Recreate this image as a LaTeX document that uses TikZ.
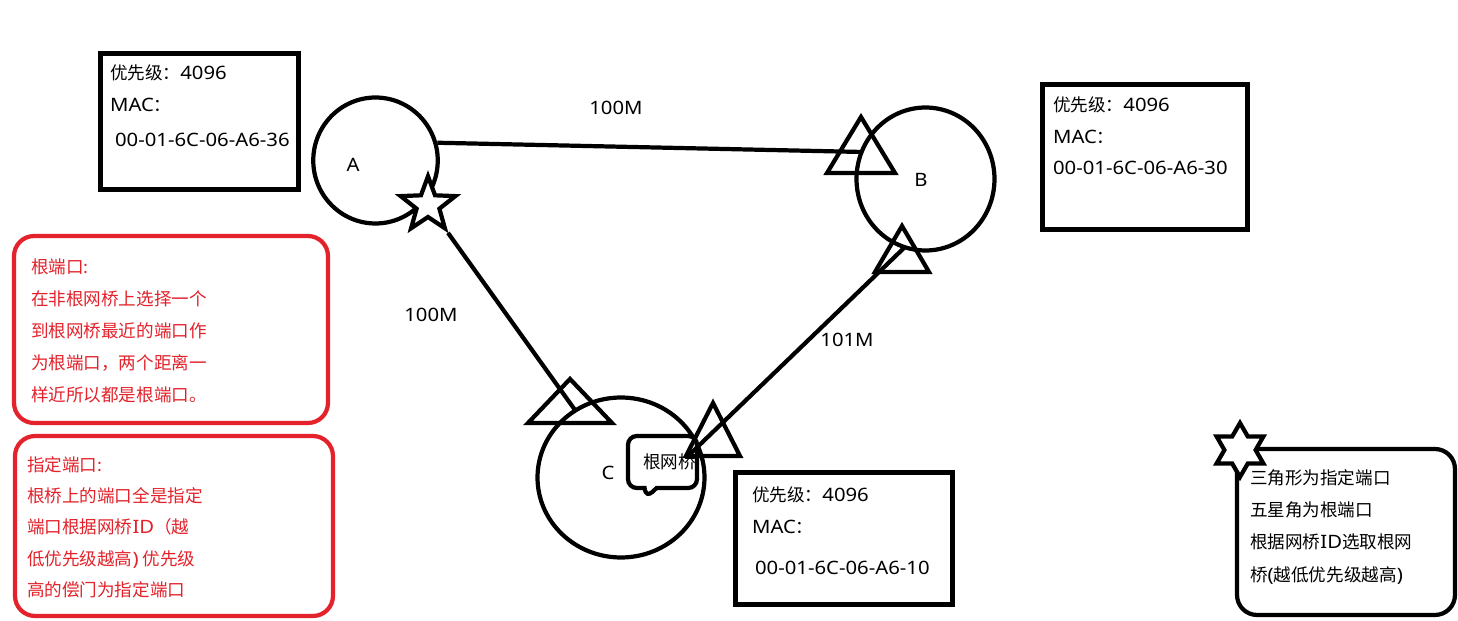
\documentclass[tikz,border=0pt]{standalone}
\usepackage{fontspec}
\setmainfont{Noto Sans CJK SC}
\newfontfamily\latin{Noto Sans}[Scale=1.05,FakeStretch=1.1]
\usepackage{tikz}
\usetikzlibrary{shapes.geometric}
\usetikzlibrary{shapes.callouts}
\definecolor{notered}{HTML}{E3222B}

\begin{document}
\begin{tikzpicture}[x=0.02cm,y=-0.02cm,line width=2.4pt,
  every node/.style={font=\fontsize{10}{12}\selectfont},
  txt/.style={anchor=west,inner sep=0pt,text height=0.85em,text depth=0.15em},
  redtxt/.style={txt,text=notered},
  infobox/.style={draw,rectangle,inner sep=0pt},
  notebox/.style={draw=notered,rectangle,rounded corners=0.4cm,inner sep=0pt},
  bridge/.style={draw,ellipse,inner sep=0pt}]
  \useasboundingbox (0,0) rectangle (1458,621);
  \fill [white] (0,0) rectangle (1458,621);
%% bridges
  \node [bridge,minimum width=2.49cm,minimum height=2.52cm] (cirA) at (375.5,160.5) {};
  \node [bridge,minimum width=2.76cm,minimum height=2.86cm] (cirB) at (925.5,179) {};
  \node [bridge,minimum width=3.34cm,minimum height=3.20cm] (cirC) at (621,477.5) {};
  \node [txt,anchor=center] (lblA) at (353,165) {\latin A};
  \node [txt,anchor=center] (lblB) at (921,180) {\latin B};
  \node [txt,anchor=center] (lblC) at (608,473) {\latin C};
  \node [draw,fill=white,rectangle callout,rounded corners=5pt,minimum width=1.38cm,
    minimum height=1.04cm,inner sep=0pt,callout absolute pointer={(646,498)},
    callout pointer width=0.24cm] (rootTag) at (662.5,462) {\hspace{8pt}根网桥};
%% links
  \node [star,star points=5,star point ratio=2.4,minimum size=1.15cm,inner sep=0pt,
    draw,fill=white] (starA) at (428,205) {};
  \coordinate (dpB1) at (863,152);
  \coordinate (dpC1) at (575,410);
  \coordinate (dpB2) at (905,247);
  \coordinate (dpC2) at (687,457);
  \draw (cirA.16) -- (dpB1);
  \draw (starA) -- (dpC1);
  \draw (dpB2) -- (dpC2);
  \foreach \x/\y/\w/\h in {861/117/34/56, 902/226/27/46, 570/379/42/44, 713/403/27/53}
    \draw (\x,\y) -- ++(-\w,\h) -- ++({2*\w},0) -- cycle;
  \node [txt,anchor=center] (bwAB) at (616,108) {\latin 100M};
  \node [txt,anchor=center] (bwAC) at (431,315) {\latin 100M};
  \node [txt,anchor=center] (bwBC) at (847,340) {\latin 101M};
%% bridge ids
  \node [infobox,minimum width=3.96cm,minimum height=2.72cm] (infoA) at (199.5,121.5) {};
  \node [infobox,minimum width=4.10cm,minimum height=2.90cm] (infoB) at (1145,157) {};
  \node [infobox,minimum width=4.34cm,minimum height=2.64cm] (infoC) at (844,538.5) {};
  \foreach \n/\x/\y/\d/\s/\mac in {A/108/73/35/5/36, B/1051/105/31/0/30, C/750/495/41/3/10}
  {
    \node [txt] (prio\n) at (\x,\y) {优先级：{\latin 4096}};
    \node [txt] (mac\n) at (\x,{\y+32}) {{\latin MAC}：};
    \node [txt] (addr\n) at ({\x+\s},{\y+32+\d}) {\latin 00-01-6C-06-A6-\mac};
  }
%% notes
  \node [notebox,minimum width=6.28cm,minimum height=3.74cm] (rootNote) at (171,329.5) {};
  \node [notebox,minimum width=6.36cm,minimum height=3.60cm] (desigNote) at (174,526) {};
  \foreach \t [count=\i] in {根端口:, 在非根网桥上选择一个, 到根网桥最近的端口作,
      为根端口，两个距离一, 样近所以都是根端口。}
    \node [redtxt] (rootTxt\i) at (29,{267+32*(\i-1)}) {\t};
  \foreach \t [count=\i] in {指定端口:, 根桥上的端口全是指定, 端口根据网桥{\latin ID}（越,
      低优先级越高{\latin )} 优先级, 高的偿门为指定端口}
    \node [redtxt] (desigTxt\i) at (25,{465+31.3*(\i-1)}) {\t};
%% legend
  \node [draw,rectangle,rounded corners=0.4cm,inner sep=0pt,minimum width=4.36cm,
    minimum height=3.32cm] (legend) at (1346,532) {};
  \node [star,star points=6,star point ratio=1.73,minimum size=1.08cm,inner sep=0pt,
    draw,fill=white] (starKey) at (1240,450) {};
  \foreach \t [count=\i] in {三角形为指定端口, 五星角为根端口, 根据网桥{\latin ID}选取根网,
      桥{\latin (}越低优先级越高{\latin )}}
    \node [txt] (keyTxt\i) at (1248,{478+32.3*(\i-1)}) {\t};
\end{tikzpicture}
\end{document}
